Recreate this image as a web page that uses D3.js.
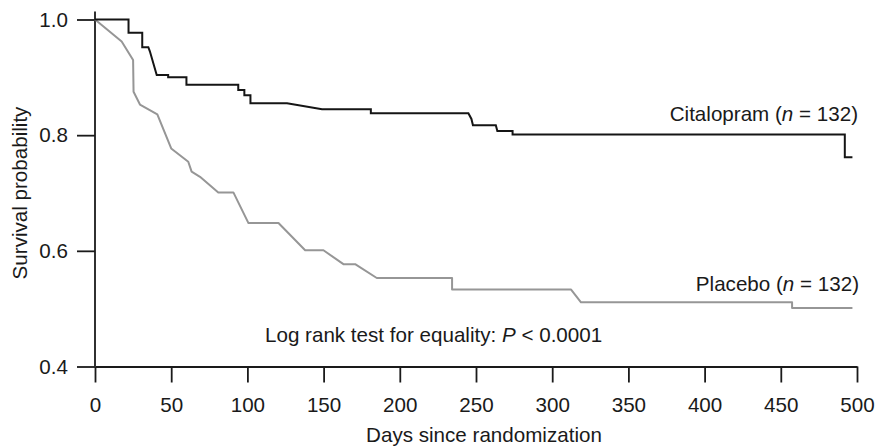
<!DOCTYPE html>
<html>
<head>
<meta charset="utf-8">
<script src="https://cdn.jsdelivr.net/npm/d3@7"></script>
<style>
  body { margin: 0; background: #fff; }
  svg { display: block; font-family: 'Liberation Sans', Arial, sans-serif; }
  .axis path, .axis line { stroke: #1a1a1a; stroke-width: 1.8; }
  .axis text { fill: #1a1a1a; font-size: 20.6px; font-family: 'Liberation Sans', Arial, sans-serif; }
  .label { fill: #1a1a1a; font-size: 20.6px; }
</style>
</head>
<body>
<svg width="876" height="447"></svg>
<script>
// Kaplan-Meier curves: [day, survival probability]
const citalopram = [
  [0, 1.0], [22, 1.0], [22, 0.977], [31, 0.977], [31, 0.952], [35, 0.952],
  [36, 0.945], [40.5, 0.904], [48, 0.904], [48, 0.900], [60, 0.900], [60, 0.887],
  [94, 0.887], [94, 0.878], [98, 0.878], [98, 0.869], [102, 0.869], [102, 0.855],
  [126, 0.855], [149, 0.845], [181, 0.845], [181, 0.838], [245, 0.838],
  [247, 0.828], [248, 0.817], [263, 0.817], [264, 0.807], [274, 0.807],
  [274, 0.801], [492, 0.801], [492, 0.762], [497, 0.762]
]
const placebo = [
  [0, 1.0], [17.5, 0.962], [25, 0.930], [25.3, 0.875], [29.5, 0.853],
  [40.9, 0.836], [50, 0.777], [61.2, 0.754], [63.4, 0.737], [68.9, 0.728],
  [80.9, 0.701], [90.8, 0.701], [100.7, 0.648], [120.4, 0.648], [137.9, 0.601],
  [149.9, 0.601], [163, 0.577], [170.7, 0.577], [184.9, 0.553], [234.3, 0.553],
  [234.3, 0.533], [312.4, 0.533], [318.9, 0.511], [457.4, 0.511],
  [457.4, 0.501], [497, 0.501]
]
const xTicks = [0, 50, 100, 150, 200, 250, 300, 350, 400, 450, 500]
const yTicks = [0.4, 0.6, 0.8, 1.0]
const seriesLabels = ['Citalopram', 'Placebo']
const groupSize = [132, 132]
const testLabel = 'Log rank test for equality: '
const pValue = '< 0.0001'

const svg = d3.select('svg')
const x = d3.scaleLinear().domain([0, 500]).range([95, 857])
const y = d3.scaleLinear().domain([0.4, 1.0]).range([366.5, 19.5])

const line = d3.line()
  .x(d => x(d[0]))
  .y(d => y(d[1]))

// axes
const gx = svg.append('g')
  .attr('class', 'axis')
  .attr('transform', `translate(0,${y(0.4)})`)
  .call(d3.axisBottom(x).tickValues(xTicks).tickSize(16).tickPadding(14.4).tickSizeOuter(0))
gx.selectAll('text').attr('font-size', null).attr('font-family', null)
gx.attr('font-size', null).attr('font-family', null)

const gy = svg.append('g')
  .attr('class', 'axis')
  .attr('transform', `translate(${x(0)},0)`)
  .call(d3.axisLeft(y).tickValues(yTicks).tickFormat(d3.format('.1f')).tickSize(18).tickPadding(9))
gy.attr('font-size', null).attr('font-family', null)
gy.select('.domain').remove()
gy.append('line')
  .attr('y1', y(1.0) - 8)
  .attr('y2', y(0.4))

// curves
svg.append('path')
  .datum(placebo)
  .attr('fill', 'none')
  .attr('stroke', '#969696')
  .attr('stroke-width', 2)
  .attr('stroke-linejoin', 'round')
  .attr('d', line)

svg.append('path')
  .datum(citalopram)
  .attr('fill', 'none')
  .attr('stroke', '#151515')
  .attr('stroke-width', 2)
  .attr('d', line)

// series labels with italic n
const groupLabel = (txt, i, xPos, yPos) => {
  const t = svg.append('text')
    .attr('class', 'label')
    .attr('x', xPos)
    .attr('y', yPos)
    .attr('text-anchor', 'end')
  t.append('tspan').text(`${txt} (`)
  t.append('tspan').attr('font-style', 'italic').text('n')
  t.append('tspan').text(` = ${groupSize[i]})`)
}
groupLabel(seriesLabels[0], 0, 858, 121)
groupLabel(seriesLabels[1], 1, 859, 290.5)

const lr = svg.append('text')
  .attr('class', 'label')
  .attr('x', 265)
  .attr('y', 341.5)
lr.append('tspan').text(testLabel)
lr.append('tspan').attr('font-style', 'italic').text('P')
lr.append('tspan').text(` ${pValue}`)

// axis titles
svg.append('text')
  .attr('class', 'label')
  .attr('x', 484)
  .attr('y', 441.5)
  .attr('text-anchor', 'middle')
  .text('Days since randomization')

svg.append('text')
  .attr('class', 'label')
  .attr('transform', 'translate(27,193) rotate(-90)')
  .attr('text-anchor', 'middle')
  .text('Survival probability')
</script>
</body>
</html>
